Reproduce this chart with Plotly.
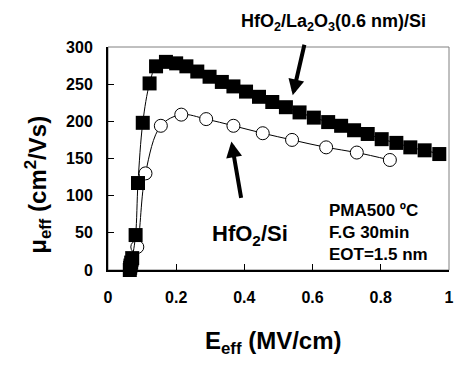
import plotly.graph_objects as go

# HfO2/La2O3(0.6 nm)/Si  (filled squares)
e_la = [0.064, 0.065, 0.066, 0.068, 0.071, 0.081, 0.088, 0.102, 0.122, 0.141, 0.170, 0.200,
        0.230, 0.262, 0.298, 0.334, 0.368, 0.405, 0.443, 0.482, 0.522, 0.562, 0.604,
        0.646, 0.684, 0.722, 0.762, 0.803, 0.846, 0.887, 0.929, 0.972]
mu_la = [0, 3, 6, 10, 16, 47, 117, 198, 251, 274, 280, 278,
         274, 267, 260, 253, 247, 240, 233, 226, 219, 212, 205,
         199, 194, 188, 183, 176, 171, 165, 161, 156]

# HfO2/Si  (open circles)
e_hf = [0.066, 0.070, 0.086, 0.110, 0.155, 0.215, 0.288, 0.368, 0.454, 0.540, 0.640, 0.730, 0.827]
mu_hf = [2, 8, 31, 130, 194, 209, 203, 194, 184, 175, 165, 158, 148]

x_ticks = [0, 0.2, 0.4, 0.6, 0.8, 1]
x_tick_labels = ["0", "0.2", "0.4", "0.6", "0.8", "1"]
y_ticks = [0, 50, 100, 150, 200, 250, 300]

FONT = "Arial, Liberation Sans, sans-serif"

fig = go.Figure()
fig.add_trace(go.Scatter(
    x=e_hf, y=mu_hf, mode="lines+markers", line=dict(color="black", width=1, shape="spline"),
    marker=dict(symbol="circle", size=13, color="white", line=dict(color="black", width=1)),
    cliponaxis=False, showlegend=False, hoverinfo="skip"))
fig.add_trace(go.Scatter(
    x=e_la, y=mu_la, mode="lines+markers", line=dict(color="black", width=1, shape="spline"),
    marker=dict(symbol="square", size=14, color="black", line=dict(width=0)),
    cliponaxis=False, showlegend=False, hoverinfo="skip"))

fig.update_layout(
    width=458, height=369,
    margin=dict(l=108, r=5, t=47, b=99),
    paper_bgcolor="white", plot_bgcolor="white",
    font=dict(family=FONT, color="black"),
    xaxis=dict(range=[0, 1.0005], tickvals=x_ticks, ticktext=x_tick_labels,
               ticks="inside", ticklen=6, tickwidth=1, tickcolor="black",
               showline=True, linecolor="black", linewidth=2, showgrid=False, zeroline=False,
               tickfont=dict(size=16, family=FONT, weight="bold"), ticklabelstandoff=12,
               ticklabeloverflow="allow"),
    yaxis=dict(range=[0, 300], tickvals=y_ticks,
               ticks="inside", ticklen=6, tickwidth=1, tickcolor="black",
               showline=True, linecolor="black", linewidth=2, showgrid=False, zeroline=False,
               tickfont=dict(size=16, family=FONT, weight="bold"), ticklabelstandoff=10),
    shapes=[dict(type="rect", xref="paper", yref="paper", x0=0, x1=1, y0=0, y1=1,
                 line=dict(color="#808080", width=1), layer="below")],
)

ann = []
ann.append(dict(text="<b>E<sub>eff</sub> (MV/cm)</b>", xref="paper", yref="paper",
                x=0.484, y=-0.323, showarrow=False, font=dict(size=24, family=FONT),
                xanchor="center", yanchor="middle"))
ann.append(dict(text="<b>μ<sub>eff</sub> (cm<sup>2</sup>/Vs)</b>", xref="paper", yref="paper",
                x=-0.206, y=0.381, showarrow=False, textangle=-90, font=dict(size=24, family=FONT),
                xanchor="center", yanchor="middle"))
ann.append(dict(text="<b>HfO<sub>2</sub>/La<sub>2</sub>O<sub>3</sub>(0.6 nm)/Si</b>", xref="paper", yref="paper",
                x=0.661, y=1.112, showarrow=False, font=dict(size=18, family=FONT),
                xanchor="center", yanchor="middle"))
ann.append(dict(text="<b>HfO<sub>2</sub>/Si</b>", xref="paper", yref="paper",
                x=0.417, y=0.157, showarrow=False, font=dict(size=22, family=FONT),
                xanchor="center", yanchor="middle"))
ann.append(dict(text="<b>PMA500 ºC<br>F.G 30min<br>EOT=1.5 nm</b>", xref="paper", yref="paper",
                x=0.643, y=0.170, showarrow=False, font=dict(size=17, family=FONT),
                xanchor="left", yanchor="middle", align="left"))
# arrows
ann.append(dict(text="", x=0.542, y=235, xref="x", yref="y", showarrow=True,
                ax=12, ay=-52, arrowhead=2, arrowsize=0.8, arrowwidth=4, arrowcolor="black"))
ann.append(dict(text="", x=0.362, y=173, xref="x", yref="y", showarrow=True,
                ax=10, ay=58, arrowhead=2, arrowsize=0.8, arrowwidth=4, arrowcolor="black"))
fig.update_layout(annotations=ann)

fig.write_html("out.html", config={"displayModeBar": False},
               post_script="document.body.style.margin='0px';document.body.style.overflow='hidden';")
